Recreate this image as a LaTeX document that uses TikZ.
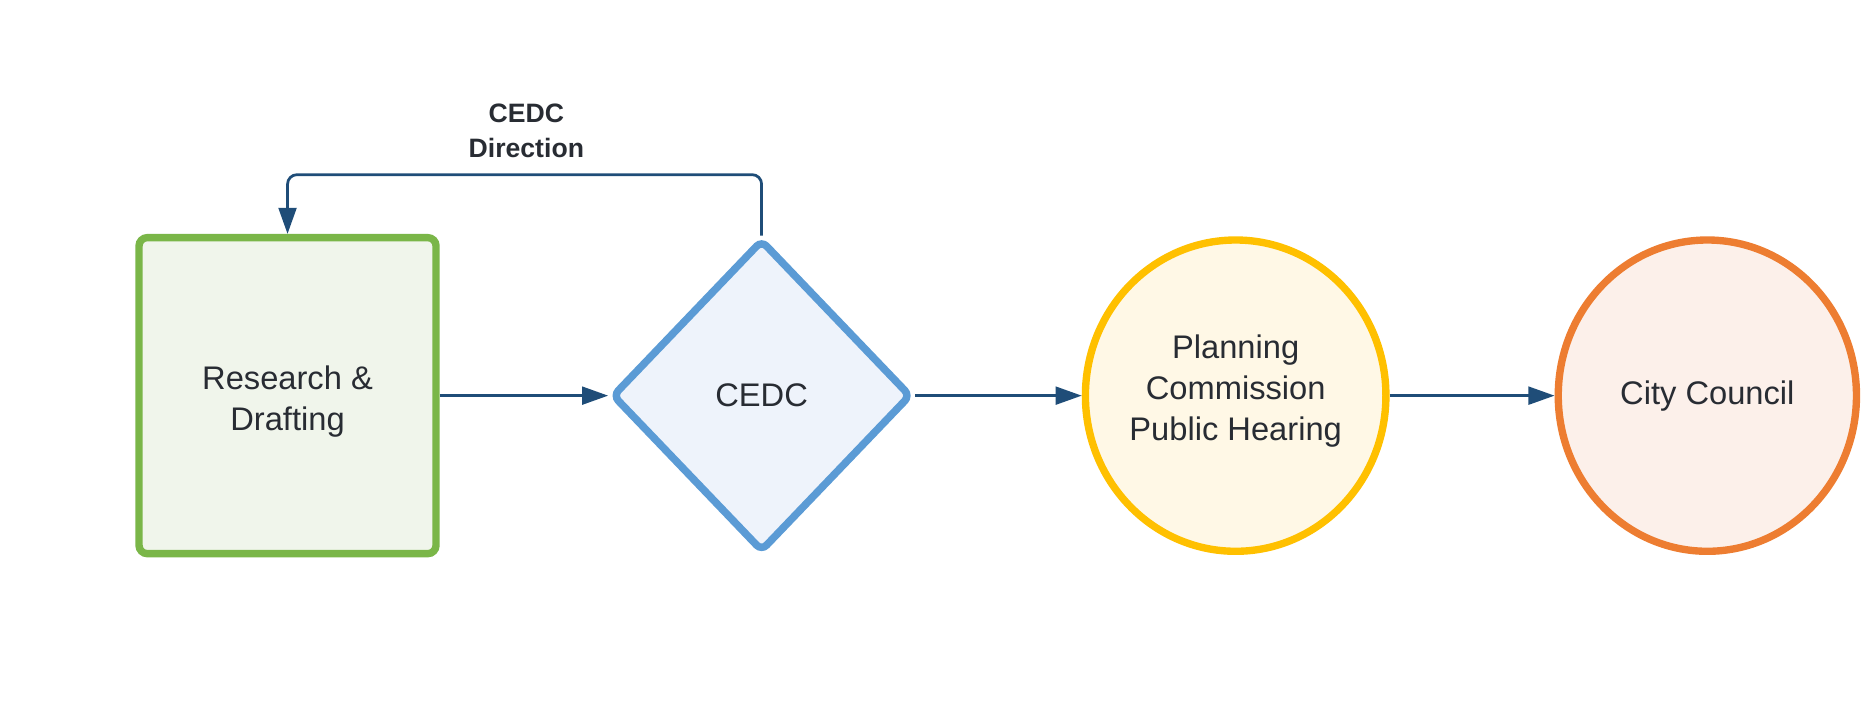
\documentclass[tikz,border=0pt]{standalone}
\usepackage{fontspec}
\setmainfont{Liberation Sans}
\usetikzlibrary{shapes.geometric,arrows.meta}
\definecolor{txt}{HTML}{282C33}
\definecolor{arrc}{HTML}{1F4D78}
\definecolor{grn}{HTML}{7AB648}
\definecolor{grnf}{HTML}{F0F5EB}
\definecolor{blu}{HTML}{5B9BD5}
\definecolor{bluf}{HTML}{EEF3FB}
\definecolor{yel}{HTML}{FFC000}
\definecolor{yelf}{HTML}{FFF8E6}
\definecolor{org}{HTML}{ED7D31}
\definecolor{orgf}{HTML}{FCF0EA}
\tikzset{
  boxtext/.style={text=txt, font=\fontsize{27.5}{34.5}\selectfont, align=center, inner sep=0pt},
  rectbox/.style={boxtext, draw=grn, fill=grnf, line width=6.2pt, rounded corners=7pt,
     minimum width=250pt, minimum height=266pt},
  diabox/.style={boxtext, diamond, draw=blu, fill=bluf, line width=6.3pt, rounded corners=6pt,
     minimum width=252pt, minimum height=263pt},
  circbox/.style={boxtext, ellipse, line width=6.2pt, minimum width=251pt, minimum height=262pt},
  arr/.style={draw=arrc, line width=2.3pt, -{Triangle[length=22pt,width=15pt]}},
  lab/.style={text=txt, font=\fontsize{22.4}{30}\selectfont\bfseries, align=center, inner sep=0pt}
}
\begin{document}
\begin{tikzpicture}[x=1pt,y=-1pt]
\useasboundingbox (0,0) rectangle (1568,593);
\node[rectbox] (rd) at (242,333) {\rule{0pt}{30pt}Research \&\\Drafting};
\node[diabox] (ce) at (641,333) {CEDC};
\node[circbox, draw=yel, fill=yelf] (pc) at (1040,333) {Planning\\Commission\\Public Hearing\rule[-13pt]{0pt}{1pt}};
\node[circbox, draw=org, fill=orgf] (cc) at (1437,333) {City Council};
\coordinate (top) at (0,147);
\draw[arr] (rd.east) -- (ce.west);
\draw[arr] (ce.east) -- (pc.west);
\draw[arr] (pc.east) -- (cc.west);
\draw[arr, rounded corners=8pt] (ce.north) -- (ce.north |- top) -- (rd.north |- top) -- (rd.north);
\node[lab] (lbl) at (443,110) {CEDC\\Direction};
\end{tikzpicture}
\end{document}
